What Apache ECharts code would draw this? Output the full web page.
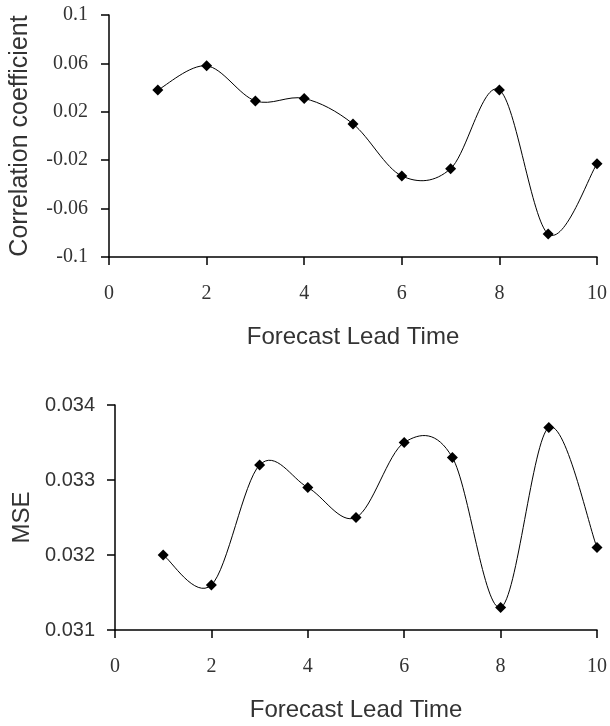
<!DOCTYPE html>
<html>
<head>
<meta charset="utf-8">
<script src="https://cdn.jsdelivr.net/npm/echarts@6/dist/echarts.min.js"></script>
<style>
  html, body { margin: 0; padding: 0; background: #fff; }
  #chart { width: 610px; height: 726px; }
</style>
</head>
<body>
<div id="chart"></div>
<script>
// lead times 1..10
const leadTimes = [1, 2, 3, 4, 5, 6, 7, 8, 9, 10];
// correlation coefficient per lead time
const corrValues = [0.038, 0.058, 0.029, 0.031, 0.010, -0.033, -0.027, 0.038, -0.081, -0.023];
// mean squared error per lead time
const mseValues = [0.0320, 0.0316, 0.0332, 0.0329, 0.0325, 0.0335, 0.0333, 0.0313, 0.0337, 0.0321];

const serif = "'Liberation Serif', 'Times New Roman', serif";
const sans = "'Liberation Sans', Arial, sans-serif";
const txt = '#333';

const pairs = (ys) => leadTimes.map((x, i) => [x, ys[i]]);

// spreadsheet-style smoothed curve (catmull-rom through the points, in pixel space)
const smoothCurve = (ys) => (params, api) => {
  const p = pairs(ys).map((d) => api.coord(d));
  let d = 'M' + p[0][0] + ' ' + p[0][1];
  for (let i = 0; i < p.length - 1; i++) {
    const p0 = p[i - 1] || p[i];
    const p1 = p[i];
    const p2 = p[i + 1];
    const p3 = p[i + 2] || p[i + 1];
    const c1x = p1[0] + (p2[0] - p0[0]) / 6;
    const c1y = p1[1] + (p2[1] - p0[1]) / 6;
    const c2x = p2[0] - (p3[0] - p1[0]) / 6;
    const c2y = p2[1] - (p3[1] - p1[1]) / 6;
    d += ' C' + c1x + ' ' + c1y + ' ' + c2x + ' ' + c2y + ' ' + p2[0] + ' ' + p2[1];
  }
  return {
    type: 'path',
    shape: { pathData: d },
    style: { fill: null, stroke: '#000', lineWidth: 1 }
  };
};

const xAxisBase = {
  type: 'value',
  min: 0,
  max: 10,
  interval: 2,
  name: 'Forecast Lead Time',
  nameLocation: 'middle',
  nameGap: 68,
  nameTextStyle: { fontFamily: sans, fontSize: 24, color: txt },
  axisLine: { show: true, onZero: false, lineStyle: { color: '#000', width: 1.5 } },
  axisTick: { show: true, length: 8, lineStyle: { color: '#000', width: 1.5 } },
  axisLabel: { fontFamily: serif, fontSize: 20, color: txt, margin: 27 },
  splitLine: { show: false }
};

const chart = echarts.init(document.getElementById('chart'));
chart.setOption({
  animation: false,
  backgroundColor: '#fff',
  grid: [
    { left: 108, right: 13, top: 15, height: 242 },
    { left: 115, right: 9, top: 405, height: 225 }
  ],
  xAxis: [
    Object.assign({ gridIndex: 0 }, xAxisBase),
    Object.assign({ gridIndex: 1 }, xAxisBase)
  ],
  yAxis: [
    {
      gridIndex: 0,
      type: 'value',
      min: -0.1,
      max: 0.1,
      interval: 0.04,
      name: 'Correlation coefficient',
      nameLocation: 'middle',
      nameGap: 76,
      nameTextStyle: { fontFamily: sans, fontSize: 25, color: txt },
      axisLine: { show: true, lineStyle: { color: '#000', width: 1.5 } },
      axisTick: { show: true, length: 8, lineStyle: { color: '#000', width: 1.5 } },
      axisLabel: {
        fontFamily: serif, fontSize: 20, color: txt, margin: 21,
        formatter: (v) => String(+v.toFixed(2))
      },
      splitLine: { show: false }
    },
    {
      gridIndex: 1,
      type: 'value',
      min: 0.031,
      max: 0.034,
      interval: 0.001,
      name: 'MSE',
      nameLocation: 'middle',
      nameGap: 80,
      nameTextStyle: { fontFamily: sans, fontSize: 24, color: txt },
      axisLine: { show: true, lineStyle: { color: '#000', width: 1.5 } },
      axisTick: { show: true, length: 8, lineStyle: { color: '#000', width: 1.5 } },
      axisLabel: {
        fontFamily: sans, fontSize: 20, color: txt, margin: 20,
        formatter: (v) => v.toFixed(3)
      },
      splitLine: { show: false }
    }
  ],
  series: [
    {
      type: 'custom',
      xAxisIndex: 0,
      yAxisIndex: 0,
      data: [[leadTimes[0], corrValues[0]]],
      renderItem: smoothCurve(corrValues),
      silent: true,
      z: 1
    },
    {
      type: 'scatter',
      xAxisIndex: 0,
      yAxisIndex: 0,
      data: pairs(corrValues),
      symbol: 'diamond',
      symbolSize: 11,
      itemStyle: { color: '#000', opacity: 1 },
      z: 2
    },
    {
      type: 'custom',
      xAxisIndex: 1,
      yAxisIndex: 1,
      data: [[leadTimes[0], mseValues[0]]],
      renderItem: smoothCurve(mseValues),
      silent: true,
      z: 1
    },
    {
      type: 'scatter',
      xAxisIndex: 1,
      yAxisIndex: 1,
      data: pairs(mseValues),
      symbol: 'diamond',
      symbolSize: 11,
      itemStyle: { color: '#000', opacity: 1 },
      z: 2
    }
  ]
});
</script>
</body>
</html>
